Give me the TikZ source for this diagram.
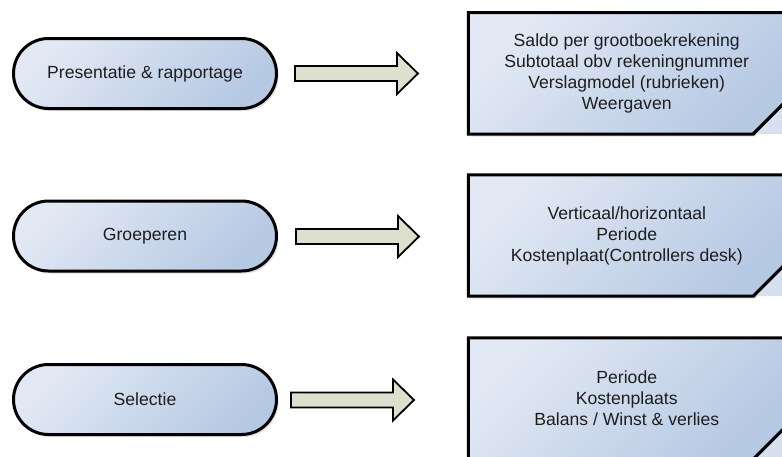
\documentclass[tikz,border=0pt]{standalone}
\usepackage{fontspec}
\setmainfont{Liberation Sans}
\usetikzlibrary{shadows,backgrounds}
\definecolor{lightb}{HTML}{E2E9F4}
\definecolor{darkb}{HTML}{B6C9E3}
\definecolor{flapb}{HTML}{D6E0EF}
\definecolor{arrowfill}{HTML}{DDE0CC}
\definecolor{txt}{HTML}{1E1E1E}
\begin{document}
\begin{tikzpicture}[x=1pt,y=-1pt,
  txtfont/.style={font=\fontsize{17.6}{21}\selectfont, text=txt},
  pill/.style={draw=black, line width=3pt, rounded corners=35pt,
    minimum width=263pt, minimum height=70pt, inner sep=0pt,
    top color=lightb, bottom color=darkb, shading angle=45,
    drop shadow={shadow xshift=2pt, shadow yshift=-2.5pt, opacity=0.25}, txtfont},
  notetext/.style={minimum width=316.5pt, minimum height=121pt, inner sep=0pt,
    align=center, txtfont},
  noteshape/.style={draw=black, line width=3pt, line join=miter,
    top color=lightb, bottom color=darkb, shading angle=45,
    drop shadow={shadow xshift=2pt, shadow yshift=-2.5pt, opacity=0.25}},
  notefold/.style={fill=flapb},
  foldline/.style={draw=black, line width=3pt},
  blockarrow/.style={draw=black, line width=1.8pt, line join=miter, fill=arrowfill}
]
\useasboundingbox (0,0) rectangle (782,456);
\clip (0,0) rectangle (782,456);

% left pills
\node[pill] (p1) at (145,73.5) {Presentatie \& rapportage};
\node[pill] (p2) at (145,236) {Groeperen};
\node[pill] (p3) at (145,399.5) {Selectie};

% right notes (text nodes)
\node[notetext] (b1) at (626.75,73.3) {Saldo per grootboekrekening\\Subtotaal obv rekeningnummer\\Verslagmodel (rubrieken)\\Weergaven};
\node[notetext] (b2) at (626.75,235.5) {Verticaal/horizontaal\\Periode\\Kostenplaat(Controllers desk)};
\node[notetext] (b3) at (626.75,398.5) {Periode\\Kostenplaats\\Balans / Winst \& verlies};

\begin{scope}[on background layer]
\foreach \b in {b1,b2,b3}{
  \path[noteshape] (\b.north west) -- (\b.north east) -- ([yshift=32pt]\b.south east)
     -- ([xshift=-32pt]\b.south east) -- (\b.south west) -- cycle;
  \path[notefold] ([yshift=32pt]\b.south east) -- ([xshift=-32pt]\b.south east) -- (\b.south east) -- cycle;
  \draw[foldline] ([yshift=32pt]\b.south east) -- ([xshift=-32pt]\b.south east);
}
\end{scope}

% block arrows
\foreach \tx/\ty in {418/73.5, 419/236.5, 414/400}{
  \draw[blockarrow] (\tx,\ty) -- ++(-21,-20.5) -- ++(0,13) -- ++(-102,0) -- ++(0,15)
     -- ++(102,0) -- ++(0,13) -- cycle;
}
\end{tikzpicture}
\end{document}
